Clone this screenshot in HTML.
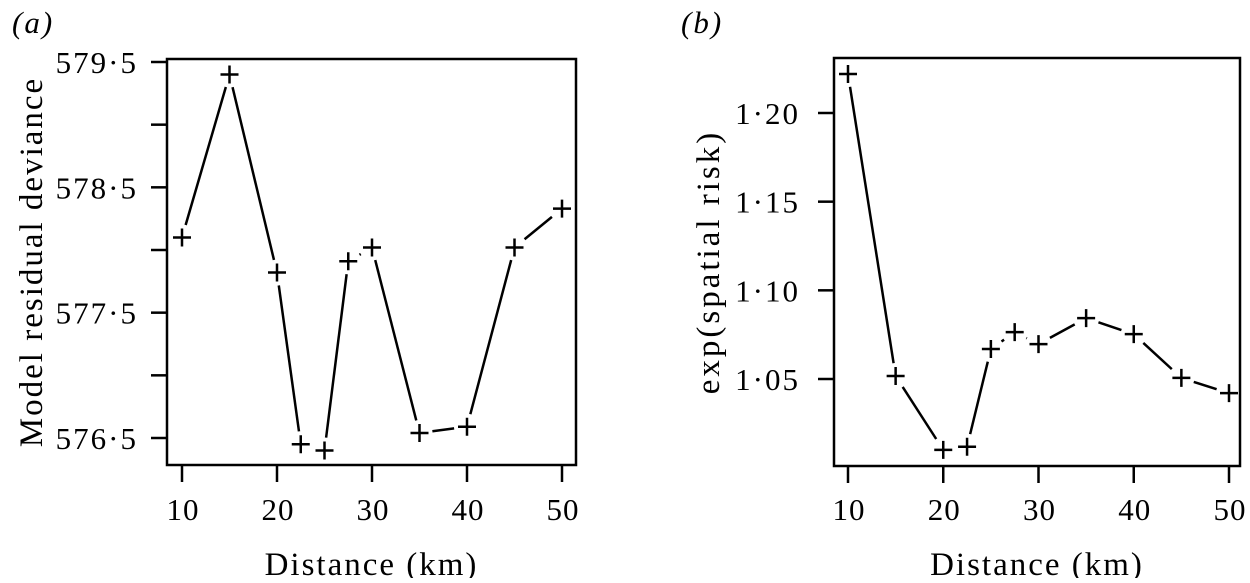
<!DOCTYPE html>
<html><head><meta charset="utf-8"><style>
body{margin:0;background:#fff;}
svg text{font-family:"Liberation Serif",serif;fill:#000;}
</style></head><body>
<svg id="chart" width="1250" height="578" xmlns="http://www.w3.org/2000/svg"></svg>
<script>
const distances = [10,15,20,22.5,25,27.5,30,35,40,45,50];
const devianceValues = [578.1,579.4,577.82,576.45,576.40,577.91,578.02,576.54,576.59,578.02,578.33];
const riskValues = [1.222,1.0517,1.010,1.0118,1.0669,1.0764,1.0697,1.0843,1.0753,1.0506,1.042];
const xTicks = [10,20,30,40,50];
const devTicks = [576.5,577,577.5,578,578.5,579,579.5];
const devLabels = ["576·5","","577·5","","578·5","","579·5"];
const riskTicks = [1.05,1.10,1.15,1.20];
const riskLabels = ["1·05","1·10","1·15","1·20"];

const NS="http://www.w3.org/2000/svg";
const svg=document.getElementById('chart');
function mk(tag,attrs,parent){const e=document.createElementNS(NS,tag);for(const k in attrs)e.setAttribute(k,attrs[k]);(parent||svg).appendChild(e);return e;}

function panel(cfg){
  const g=mk('g',{});
  
  
  const xs=v=>cfg.x0+(v-10)/40*(cfg.x1-cfg.x0);
  const ys=v=>cfg.yA+(v-cfg.vA)/(cfg.vB-cfg.vA)*(cfg.yB-cfg.yA);
  const box=mk('rect',{x:cfg.L,y:cfg.T,width:cfg.R-cfg.L,height:cfg.B-cfg.T,fill:'none',stroke:'#000','stroke-width':2.5},g);
  
  
  xTicks.forEach(t=>{
    const X=xs(t);
    const tk=mk('line',{x1:X,x2:X,y1:cfg.B,y2:cfg.B+17,stroke:'#000','stroke-width':2.5},g);
    
    
    const tx=mk('text',{x:X+1,y:520,'text-anchor':'middle','font-size':31,'letter-spacing':1},g);
    tx.textContent=t;
    
    
  });
  cfg.ticks.forEach((t,i)=>{
    const Y=ys(t);
    const tk=mk('line',{x1:cfg.L-16,x2:cfg.L,y1:Y,y2:Y,stroke:'#000','stroke-width':2.5},g);
    
    
    if(cfg.labels[i]){
      const tx=mk('text',{x:cfg.L-cfg.lgap,y:Y+11,'text-anchor':'end','font-size':31,'letter-spacing':2},g);
      tx.textContent=cfg.labels[i];
      
      
    }
  });
  const pts=distances.map((d,i)=>[xs(d),ys(cfg.vals[i])]);
  const gap=13;
  for(let i=0;i<pts.length-1;i++){
    const [a,b]=[pts[i],pts[i+1]];const dx=b[0]-a[0],dy=b[1]-a[1];const len=Math.hypot(dx,dy);
    if(len>2*gap){
      const ux=dx/len,uy=dy/len;
      const s=mk('line',{x1:a[0]+ux*gap,y1:a[1]+uy*gap,x2:b[0]-ux*gap,y2:b[1]-uy*gap,stroke:'#000','stroke-width':2.5},g);
      
      
    }
  }
  pts.forEach(p=>{
    const m=mk('path',{d:`M${p[0]-9},${p[1]}H${p[0]+9}M${p[0]},${p[1]-9}V${p[1]+9}`,stroke:'#000','stroke-width':2.5,fill:'none'},g);
    
    
  });
  const xt=mk('text',{x:(cfg.L+cfg.R)/2,y:575,'text-anchor':'middle','font-size':33,'letter-spacing':2},g);
  xt.textContent='Distance (km)';
  
  
  const yt=mk('text',{x:0,y:0,'text-anchor':'middle','font-size':33,'letter-spacing':cfg.yls,transform:`translate(${cfg.ytx},${(cfg.T+cfg.B)/2}) rotate(-90)`},g);
  yt.textContent=cfg.ytitle;
  
  
  const pl=mk('text',{x:cfg.plx,y:33,'font-size':31,'font-style':'italic','letter-spacing':2},g);
  pl.textContent=cfg.plabel;
  
  
}
panel({name:'panel-a',L:167,R:576,T:59,B:465,x0:182,x1:562,yA:62,vA:579.5,yB:438,vB:576.5,lgap:29,yls:2,
  ticks:devTicks,labels:devLabels,vals:devianceValues,ytitle:'Model residual deviance',ytx:42,plx:12,plabel:'(a)'});
panel({name:'panel-b',L:834,R:1240,T:58,B:466,x0:848,x1:1229,yA:113,vA:1.20,yB:379,vB:1.05,lgap:34,yls:3,
  ticks:riskTicks,labels:riskLabels,vals:riskValues,ytitle:'exp(spatial risk)',ytx:719,plx:681,plabel:'(b)'});
</script>
</body></html>
